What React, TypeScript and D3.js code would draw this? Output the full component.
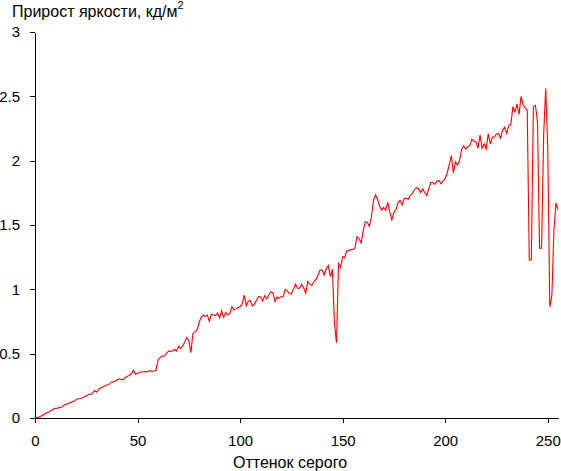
import React, { useEffect, useRef } from "react";
import * as d3 from "d3";

const title = "Прирост яркости, кд/м";
const titleSup = "2";
const xLabel = "Оттенок серого";
const xTicks = [0, 50, 100, 150, 200, 250];
const yTicks = [0, 0.5, 1, 1.5, 2, 2.5, 3];

const values: number[] = [
  0, 0.005, 0.007, 0.015, 0.025, 0.035, 0.042, 0.048, 0.06, 0.07,
  0.075, 0.077, 0.082, 0.084, 0.1, 0.106, 0.11, 0.118, 0.125, 0.13,
  0.143, 0.15, 0.152, 0.155, 0.165, 0.172, 0.18, 0.185, 0.19, 0.215,
  0.2, 0.222, 0.235, 0.24, 0.25, 0.257, 0.26, 0.275, 0.282, 0.285,
  0.295, 0.305, 0.3, 0.298, 0.315, 0.325, 0.33, 0.345, 0.372, 0.34,
  0.345, 0.355, 0.358, 0.36, 0.362, 0.358, 0.37, 0.362, 0.365, 0.37,
  0.45, 0.47, 0.482, 0.48, 0.5, 0.518, 0.52, 0.52, 0.534, 0.52,
  0.558, 0.54, 0.56, 0.59, 0.625, 0.6, 0.508, 0.655, 0.67, 0.685,
  0.74, 0.78, 0.8, 0.79, 0.8, 0.752, 0.806, 0.8, 0.795, 0.815,
  0.778, 0.832, 0.782, 0.82, 0.8, 0.813, 0.865, 0.84, 0.848, 0.858,
  0.865, 0.885, 0.955, 0.872, 0.91, 0.912, 0.87, 0.885, 0.915, 0.943,
  0.94, 0.91, 0.95, 0.925, 0.956, 0.98, 0.975, 0.905, 0.94, 0.93,
  0.943, 0.945, 1.0, 0.99, 0.966, 0.965, 1.0, 1.04, 1.008, 1.008,
  1.04, 1.01, 0.97, 1.06, 1.04, 1.03, 1.06, 1.075, 1.11, 1.15,
  1.15, 1.11, 1.16, 1.185, 1.1, 1.155, 0.736, 0.585, 1.2, 1.17,
  1.255, 1.245, 1.3, 1.3, 1.31, 1.31, 1.32, 1.41, 1.395, 1.36,
  1.45, 1.526, 1.52, 1.49, 1.56, 1.69, 1.733, 1.7, 1.647, 1.615,
  1.637, 1.615, 1.675, 1.6, 1.54, 1.6, 1.62, 1.674, 1.69, 1.656,
  1.705, 1.707, 1.7, 1.733, 1.745, 1.772, 1.79, 1.78, 1.752, 1.78,
  1.752, 1.73, 1.785, 1.83, 1.83, 1.815, 1.842, 1.845, 1.82, 1.845,
  1.86, 1.907, 1.97, 2.04, 1.905, 1.99, 1.966, 2.0, 2.09, 2.114,
  2.09, 2.11, 2.115, 2.166, 2.15, 2.145, 2.095, 2.2, 2.095, 2.13,
  2.09, 2.21, 2.13, 2.18, 2.186, 2.207, 2.21, 2.174, 2.238, 2.26,
  2.212, 2.276, 2.28, 2.42, 2.38, 2.44, 2.36, 2.5, 2.43, 2.41,
  2.39, 1.228, 1.228, 2.42, 2.43, 2.3, 1.32, 1.32, 2.2, 2.56,
  2.1, 0.865, 0.95, 1.45, 1.67, 1.62,
];

const W = 561;
const H = 471;
const X0 = 35;
const X1 = 558;
const Y0 = 418;
const Y1 = 32;
const FONT = "'Liberation Sans', Arial, sans-serif";

export default function App() {
  const ref = useRef<SVGSVGElement>(null);

  useEffect(() => {
    const svg = d3.select(ref.current);
    svg.selectAll("*").remove();

    const x = d3.scaleLinear().domain([0, 255]).range([X0, X1]);
    const y = d3.scaleLinear().domain([0, 3]).range([Y0, Y1]);

    // axes
    const gx = svg
      .append("g")
      .attr("transform", `translate(0,${Y0})`)
      .call(
        d3
          .axisBottom(x)
          .tickValues(xTicks)
          .tickSize(5)
          .tickSizeOuter(0)
          .tickPadding(12)
          .tickFormat((d) => String(d))
      );
    const gy = svg
      .append("g")
      .attr("transform", `translate(${X0},0)`)
      .call(
        d3
          .axisLeft(y)
          .tickValues(yTicks)
          .tickSize(5)
          .tickSizeOuter(0)
          .tickPadding(10)
          .tickFormat((d) => String(d))
      );
    [gx, gy].forEach((g) => {
      g.selectAll("path,line")
        .attr("stroke", "#000")
        .attr("shape-rendering", "crispEdges");
      g.selectAll("text")
        .attr("fill", "#000")
        .style("font-family", FONT)
        .style("font-size", "15px");
    });

    // line
    const line = d3
      .line<number>()
      .x((_, i) => x(i))
      .y((d) => y(d));
    svg
      .append("path")
      .datum(values)
      .attr("d", line)
      .attr("fill", "none")
      .attr("stroke", "#ff0000")
      .attr("stroke-width", 1.1);

    // title
    const t = svg
      .append("text")
      .attr("x", 12)
      .attr("y", 17)
      .style("font-family", FONT)
      .style("font-size", "16px")
      .attr("fill", "#000");
    t.append("tspan").text(title);
    t.append("tspan")
      .attr("dy", -8)
      .style("font-size", "11px")
      .text(titleSup);

    // x label
    svg
      .append("text")
      .attr("x", 290)
      .attr("y", 468)
      .attr("text-anchor", "middle")
      .style("font-family", FONT)
      .style("font-size", "16px")
      .attr("fill", "#000")
      .text(xLabel);
  }, []);

  return (
    <svg
      ref={ref}
      width={W}
      height={H}
      style={{ position: "absolute", left: 0, top: 0, background: "#fff" }}
    />
  );
}
